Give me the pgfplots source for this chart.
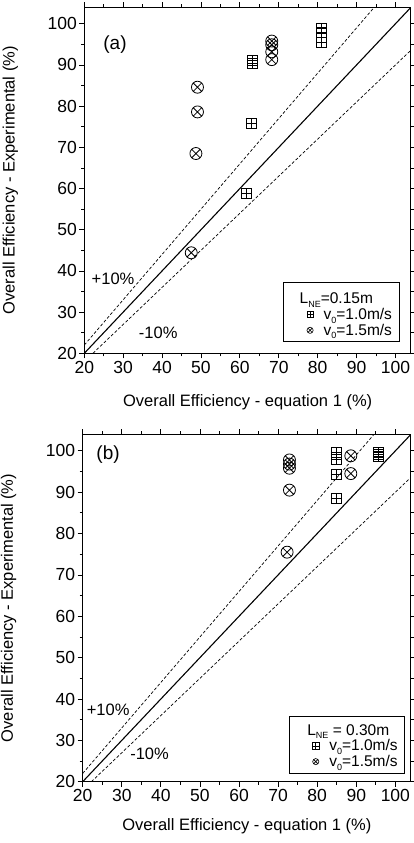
\documentclass[border=0pt]{standalone}
\usepackage{fontspec}
\setmainfont{Liberation Sans}
\usepackage{pgfplots}
\pgfplotsset{compat=1.18}

% square with a plus inside
\pgfdeclareplotmark{boxplus}{%
  \pgfpathrectangle{\pgfqpoint{-\pgfplotmarksize}{-\pgfplotmarksize}}{\pgfqpoint{2\pgfplotmarksize}{2\pgfplotmarksize}}%
  \pgfpathmoveto{\pgfqpoint{-\pgfplotmarksize}{0pt}}\pgfpathlineto{\pgfqpoint{\pgfplotmarksize}{0pt}}%
  \pgfpathmoveto{\pgfqpoint{0pt}{-\pgfplotmarksize}}\pgfpathlineto{\pgfqpoint{0pt}{\pgfplotmarksize}}%
  \pgfusepathqstroke}

\newcommand{\figfont}{\fontsize{16.5}{19}\selectfont}
\newcommand{\tickfont}{\fontsize{17.5}{20}\selectfont}
\newcommand{\sub}[1]{\raisebox{-3.6pt}{\fontsize{9}{10}\selectfont #1}}

\pgfplotsset{
  effax/.style={
    scale only axis,
    xmin=20, xmax=104, ymin=20, ymax=104,
    xtick={20,30,...,100}, ytick={20,30,...,100},
    minor x tick num=1, minor y tick num=1,
    tick align=outside,
    major tick length=5pt, minor tick length=3pt,
    tick style={black, line width=0.8pt},
    axis line style={line width=1pt},
    /pgf/number format/assume math mode=true,
    ticklabel style={font=\tickfont},
    xticklabel style={yshift=1pt},
    yticklabel style={xshift=1pt},
    xlabel={Overall Efficiency - equation 1 (\%)},
    ylabel={Overall Efficiency - Experimental (\%)},
    every axis y label/.style={at={(axis description cs:0,0.5)}, xshift=-74pt, rotate=90, anchor=center, font=\figfont},
    legend style={draw=black, line width=0.6pt, font=\fontsize{15.5}{18}\selectfont,
      inner xsep=5pt, inner ysep=3pt, row sep=-1pt},
    legend cell align=left,
  },
  legimg/.style={legend image code/.code={%
      \pgfpathmoveto{\pgfqpoint{0pt}{-3pt}}\pgfpathlineto{\pgfqpoint{27pt}{3pt}}\pgfusepath{discard}%
      \draw[mark size=3.1pt, line width=0.6pt, ##1] plot coordinates {(21.4pt,0pt)};}},
  ptA/.style={only marks, mark=boxplus, mark size=5pt, black, line width=0.8pt, legimg},
  ptB/.style={only marks, mark=otimes, mark size=6pt, black, line width=0.8pt, legimg},
  ref/.style={black, line width=1.1pt, forget plot},
  band/.style={black, line width=0.7pt, dash pattern=on 3pt off 2pt, forget plot},
}

\begin{document}
\begin{tikzpicture}
\path[use as bounding box] (0,0) rectangle (414pt,843pt);

% ---------------- panel (a)
\begin{axis}[effax,
  at={(84.3pt,489.7pt)}, anchor=south west,
  width=326.7pt, height=346pt,
  every axis x label/.style={at={(axis description cs:0.5,0)}, yshift=-49pt, anchor=center, font=\figfont},
  legend style={at={(axis description cs:0.9642,0.0327)}, anchor=south east},
]
  \addplot[ref]  coordinates {(20,20) (104,104)};
  \addplot[band] coordinates {(20,22) (94.545,104)};
  \addplot[band] coordinates {(22.222,20) (104,93.6)};

  \addlegendimage{empty legend}
  \addlegendentry{\hspace*{-18pt}\rule{0pt}{16pt}L\sub{NE}=0.15m}

  \addplot[ptA] coordinates {
    (61.6,58.9) (63.0,75.7) (63.3,90.5) (63.3,91.2)
    (80.9,95.5) (80.9,97.8) (80.9,98.8)
  };
  \addlegendentry{\hspace*{6pt}v\sub{0}=1.0m/s}

  \addplot[ptB] coordinates {
    (47.5,44.4) (48.7,68.5) (49.1,78.6) (49.1,84.6)
    (68.2,91.3) (68.2,93.2) (68.2,94.9) (68.2,95.8)
  };
  \addlegendentry{\hspace*{6pt}v\sub{0}=1.5m/s}

  \node[font=\fontsize{19}{22}\selectfont] at (axis cs:27.9,95) {(a)};
  \node[font=\figfont] at (axis cs:27.4,38) {+10\%};
  \node[font=\figfont] at (axis cs:39,25) {-10\%};
\end{axis}

% ---------------- panel (b)
\begin{axis}[effax,
  at={(82.7pt,61.3pt)}, anchor=south west,
  width=328.3pt, height=347.4pt,
  every axis x label/.style={at={(axis description cs:0.5,0)}, yshift=-45pt, anchor=center, font=\figfont},
  legend style={at={(axis description cs:0.9817,0.0242)}, anchor=south east},
]
  \addplot[ref]  coordinates {(20,20) (104,104)};
  \addplot[band] coordinates {(20,22) (94.545,104)};
  \addplot[band] coordinates {(22.222,20) (104,93.6)};

  \addlegendimage{empty legend}
  \addlegendentry{\hspace*{-16pt}\rule{0pt}{14pt}L\sub{NE} = 0.30m}

  \addplot[ptA] coordinates {
    (84.8,88.6) (84.8,94.3) (85.0,98.0) (85.0,99.6)
    (95.7,98.6) (95.7,99.2) (95.7,99.6)
  };
  \addlegendentry{\hspace*{6pt}v\sub{0}=1.0m/s}

  \addplot[ptB] coordinates {
    (72.3,75.5) (72.9,90.5) (72.9,95.8) (72.9,96.8) (72.9,97.8)
    (88.6,94.5) (88.6,98.8)
  };
  \addlegendentry{\hspace*{6pt}v\sub{0}=1.5m/s}

  \node[font=\fontsize{19}{22}\selectfont] at (axis cs:26.5,99.2) {(b)};
  \node[font=\figfont] at (axis cs:26.5,37.5) {+10\%};
  \node[font=\figfont] at (axis cs:37.1,26.7) {-10\%};
\end{axis}
\end{tikzpicture}
\end{document}
